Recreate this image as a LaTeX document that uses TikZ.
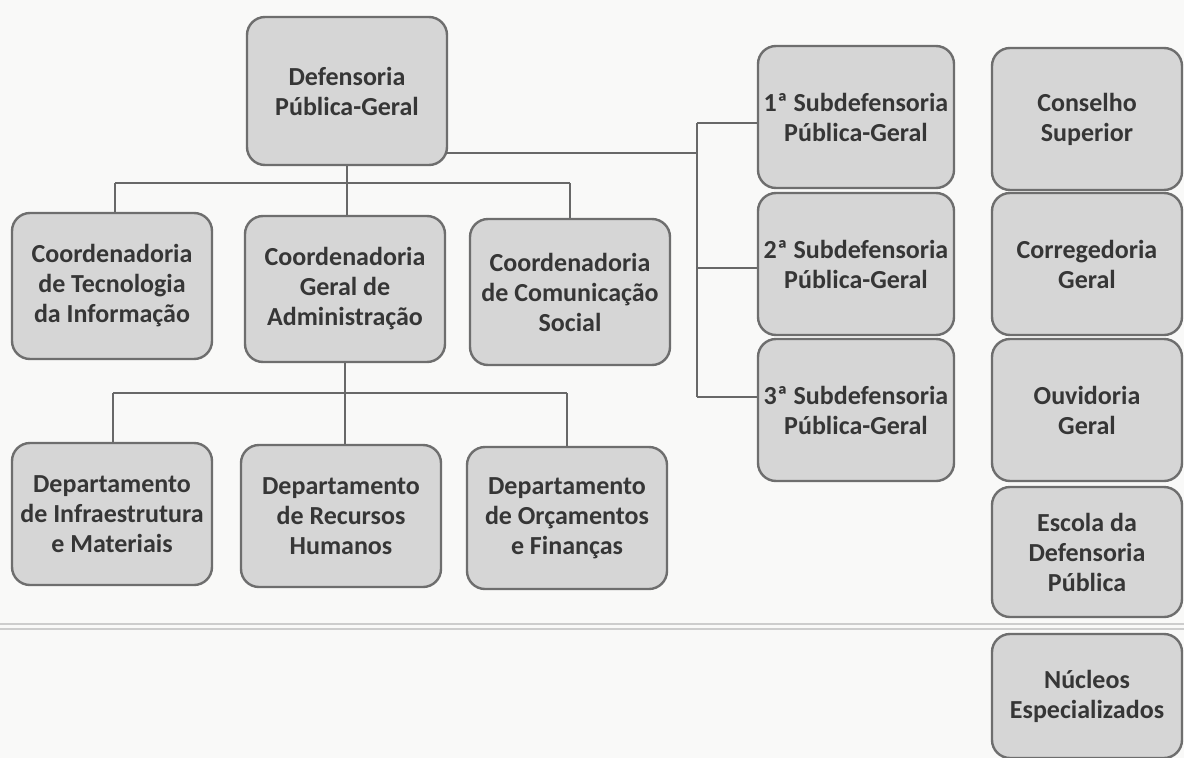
\documentclass[tikz,border=0pt]{standalone}
\usepackage{fontspec}
\setmainfont{Carlito}
\definecolor{pagebg}{HTML}{F9F9F8}
\definecolor{boxfill}{HTML}{D6D6D6}
\definecolor{boxline}{HTML}{6E6E6E}
\definecolor{boxtext}{HTML}{363636}
\definecolor{wire}{HTML}{686868}
\definecolor{ghostrule}{HTML}{CDCDCD}
\begin{document}
\begin{tikzpicture}[x=1pt,y=-1pt,
  orgbox/.style={draw=boxline, line width=2.4pt, fill=boxfill,
    rounded corners=18pt, text=boxtext, font=\bfseries\fontsize{26}{30}\selectfont,
    align=center, minimum width=200pt, minimum height=146pt, inner sep=0pt},
  subbox/.style={orgbox, minimum width=196pt, minimum height=142pt},
  sidebox/.style={orgbox, minimum width=190pt, minimum height=142pt},
  wireline/.style={draw=wire, line width=2pt},
  ghostline/.style={draw=ghostrule, line width=1.6pt}]

\fill[pagebg] (0,0) rectangle (1184,758);
\useasboundingbox (0,0) rectangle (1184,758);

% faint page rule of the scan
\draw[ghostline] (0,624) -- (1184,624);
\draw[ghostline] (0,629) -- (1184,629);

% wires
\coordinate (bus1) at (347,183);
\coordinate (bus1l) at (115,183);
\coordinate (bus1r) at (570,183);
\coordinate (bus2) at (345,393);
\coordinate (bus2l) at (113,393);
\coordinate (bus2r) at (567,393);
\coordinate (sb0) at (697,153);
\coordinate (sb1) at (697,123);
\coordinate (sb2) at (697,268);
\coordinate (sb3) at (697,397);

% boxes
\node[orgbox, minimum height=148pt] (dpg) at (347,91) {Defensoria\\Pública-Geral};

\node[subbox] (s1) at (856,117) {1ª Subdefensoria\\Pública-Geral};
\node[subbox] (s2) at (856,264) {2ª Subdefensoria\\Pública-Geral};
\node[subbox] (s3) at (856,410) {3ª Subdefensoria\\Pública-Geral};

\node[sidebox] (cs) at (1087,119) {Conselho\\Superior};
\node[sidebox] (cg) at (1087,264) {Corregedoria\\Geral};
\node[sidebox] (og) at (1087,410) {Ouvidoria\\Geral};
\node[sidebox, minimum height=130pt] (ed) at (1087,552) {Escola da\\Defensoria\\Pública};
\node[sidebox, minimum height=124pt] (ne) at (1087,696) {Núcleos\\Especializados};

\node[orgbox] (cti) at (112,286) {Coordenadoria\\de Tecnologia\\da Informação};
\node[orgbox] (cga) at (345,289) {Coordenadoria\\Geral de\\Administração};
\node[orgbox] (ccs) at (570,292) {Coordenadoria\\de Comunicação\\Social};

\node[orgbox, minimum height=142pt] (dim) at (112,514) {Departamento\\de Infraestrutura\\e Materiais};
\node[orgbox, minimum height=142pt] (drh) at (341,516) {Departamento\\de Recursos\\Humanos};
\node[orgbox, minimum height=142pt] (dof) at (567,518) {Departamento\\de Orçamentos\\e Finanças};

\draw[wireline] (dpg.south) -- (bus1);
\draw[wireline] (bus1l) -- (bus1r);
\draw[wireline] (bus1l) -- (bus1l |- cti.north);
\draw[wireline] (bus1) -- (bus1 |- cga.north);
\draw[wireline] (bus1r) -- (bus1r |- ccs.north);

\draw[wireline] (cga.south) -- (bus2);
\draw[wireline] (bus2l) -- (bus2r);
\draw[wireline] (bus2l) -- (bus2l |- dim.north);
\draw[wireline] (bus2) -- (bus2 |- drh.north);
\draw[wireline] (bus2r) -- (bus2r |- dof.north);

\draw[wireline] ([xshift=-2pt]dpg.east |- sb0) -- (sb0);
\draw[wireline] (sb1) -- (sb3);
\draw[wireline] (sb1) -- (s1.west |- sb1);
\draw[wireline] (sb2) -- (s2.west |- sb2);
\draw[wireline] (sb3) -- (s3.west |- sb3);
\end{tikzpicture}
\end{document}
